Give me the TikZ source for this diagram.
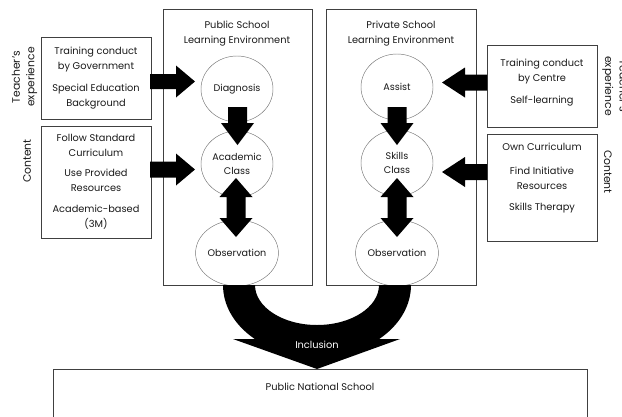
\documentclass[tikz,border=0pt]{standalone}
\usepackage{fontspec}
\setmainfont{Poppins}
\usetikzlibrary{shapes.geometric,calc}

% Block arrow between two named points: shaft half-width, head half-width, head length
\newcommand\blockarrow[5]{%
  \fill[blockfill] ($(#1)!#3!90:(#2)$)
    -- ($($(#2)!#5!(#1)$)!#3!90:(#2)$)
    -- ($($(#2)!#5!(#1)$)!#4!90:(#2)$)
    -- (#2)
    -- ($($(#2)!#5!(#1)$)!#4!-90:(#2)$)
    -- ($($(#2)!#5!(#1)$)!#3!-90:(#2)$)
    -- ($(#1)!#3!-90:(#2)$) -- cycle;}
% Double-headed block arrow between two named points
\newcommand\dblockarrow[5]{%
  \fill[blockfill] (#1)
    -- ($($(#1)!#5!(#2)$)!#4!-90:(#2)$)
    -- ($($(#1)!#5!(#2)$)!#3!-90:(#2)$)
    -- ($($(#2)!#5!(#1)$)!#3!90:(#1)$)
    -- ($($(#2)!#5!(#1)$)!#4!90:(#1)$)
    -- (#2)
    -- ($($(#2)!#5!(#1)$)!#4!-90:(#1)$)
    -- ($($(#2)!#5!(#1)$)!#3!-90:(#1)$)
    -- ($($(#1)!#5!(#2)$)!#3!90:(#2)$)
    -- ($($(#1)!#5!(#2)$)!#4!90:(#2)$) -- cycle;}

\begin{document}
\begin{tikzpicture}[x=1pt,y=-1pt,
  frame/.style={draw=black!75, line width=0.7pt, anchor=north west, inner sep=0pt},
  stage/.style={ellipse, draw=black!55, line width=0.45pt, minimum width=72pt,
    minimum height=66pt, inner sep=0pt, align=center,
    font=\fontsize{9.6}{14}\selectfont, text=black!90},
  txt/.style={align=center, inner sep=0pt, font=\fontsize{9.8}{15}\selectfont, text=black!90},
  side/.style={align=center, inner sep=0pt, font=\fontsize{10.8}{14.5}\selectfont, text=black!90},
  blockfill/.style={fill=black}
]
\useasboundingbox (0,0) rectangle (622,416);

% Learning environments
\node[frame, minimum width=149pt, minimum height=276pt] (pub) at (163,9) {};
\node[frame, minimum width=150pt, minimum height=276pt] (pri) at (326,9) {};
\node[txt] (pubtitle) at (237,33.5) {Public School\\Learning Environment};
\node[txt] (prititle) at (401,33.5) {Private School\\Learning Environment};

% Stages
\node[stage] (diag) at (237,89) {Diagnosis};
\node[stage] (acad) at (237,164) {Academic\\Class};
\node[stage] (obsl) at (237,253) {Observation};
\node[stage] (assist) at (397,87) {Assist};
\node[stage] (skills) at (397,163) {Skills\\Class};
\node[stage] (obsr) at (397,253) {Observation};

% Input boxes, public side
\node[frame, minimum width=110pt, minimum height=82pt] (ltb) at (41,37) {};
\node[frame, minimum width=110pt, minimum height=112pt] (lcb) at (41,126) {};
\node[txt] at (96,78) {Training conduct\\by Government\\[7pt]Special Education\\Background};
\node[txt] at (96,181.5) {Follow Standard\\Curriculum\\[5pt]Use Provided\\Resources\\[6pt]Academic-based\\(3M)};
\node[side, rotate=90] at (24.5,77) {Teacher's\\experience};
\node[side, rotate=90] at (27,161) {Content};

% Input boxes, private side
\node[frame, minimum width=110pt, minimum height=82pt] (rtb) at (487,45) {};
\node[frame, minimum width=110pt, minimum height=107pt] (rcb) at (487,134) {};
\node[txt] at (542,83) {Training conduct\\by Centre\\[7pt]Self-learning};
\node[txt] at (542,178.5) {Own Curriculum\\[9pt]Find Initiative\\Resources\\[6pt]Skills Therapy};
\node[side, rotate=-90] at (615,86) {Teacher's\\experience};
\node[side, rotate=-90] at (608,172) {Content};

% Horizontal block arrows
\coordinate (a1s) at (150,81.5);  \coordinate (a1e) at (195,81.5);
\coordinate (a2s) at (150,169.5); \coordinate (a2e) at (195,169.5);
\coordinate (a3s) at (487,82.5);  \coordinate (a3e) at (442,82.5);
\coordinate (a4s) at (487,172);   \coordinate (a4e) at (442,172);
\blockarrow{a1s}{a1e}{7.5pt}{16pt}{19pt}
\blockarrow{a2s}{a2e}{8pt}{16pt}{19pt}
\blockarrow{a3s}{a3e}{8pt}{15pt}{23pt}
\blockarrow{a4s}{a4e}{8pt}{15pt}{23pt}

% Vertical block arrows
\coordinate (v1s) at (237.5,107); \coordinate (v1e) at (237.5,145);
\coordinate (v2s) at (397,107);   \coordinate (v2e) at (397,145);
\blockarrow{v1s}{v1e}{9.5pt}{16.5pt}{22pt}
\blockarrow{v2s}{v2e}{9.5pt}{16.5pt}{22pt}
\coordinate (d1s) at (236,178); \coordinate (d1e) at (236,237);
\coordinate (d2s) at (397,178); \coordinate (d2e) at (397,237);
\dblockarrow{d1s}{d1e}{9.5pt}{16.5pt}{19pt}
\dblockarrow{d2s}{d2e}{9.5pt}{16.5pt}{19pt}

% Inclusion: two bands merging into one arrow
\coordinate (inc) at (317,285);
\begin{scope}
  \clip (200,285) rectangle (440,380);
  \fill[blockfill, even odd rule] (inc) ellipse[x radius=94, y radius=72]
                                  (inc) ellipse[x radius=62, y radius=40];
\end{scope}
\coordinate (incl) at (233,339);
\coordinate (incr) at (400,339);
\coordinate (inctip) at (317,369);
\fill[blockfill] (incl) -- (incr) -- (inctip) -- cycle;
\node[txt, text=white] (inclabel) at (317,345) {Inclusion};

% Destination
\node[frame, minimum width=534pt, minimum height=80pt] (pns) at (53,369) {};
\node[txt] at (320,387) {Public National School};
\end{tikzpicture}
\end{document}
